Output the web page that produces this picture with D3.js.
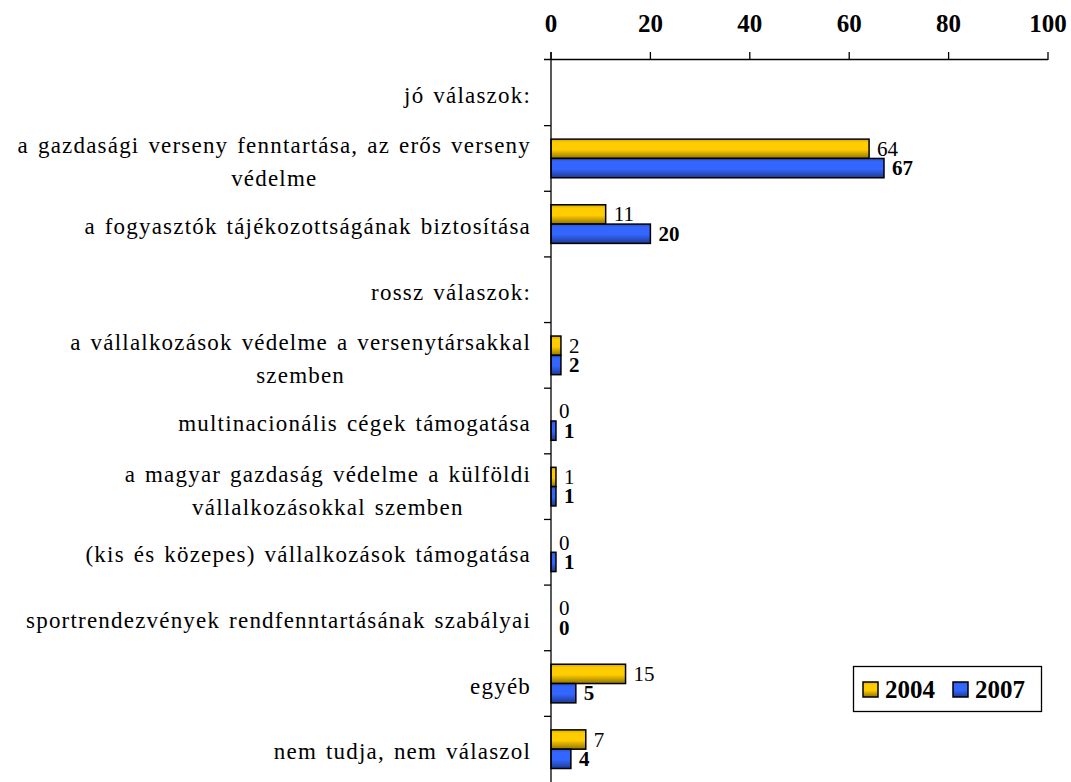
<!DOCTYPE html>
<html>
<head>
<meta charset="utf-8">
<script src="https://cdn.jsdelivr.net/npm/d3@7"></script>
<style>
  html, body { margin: 0; padding: 0; background: #fff; }
  svg { display: block; }
  svg text { font-family: "Liberation Serif", "Times New Roman", serif; }
</style>
</head>
<body>
<svg id="chart" width="1071" height="782"></svg>
<script>
// ---- data ----
const categories = [
  "jó válaszok:",
  "a gazdasági verseny fenntartása, az erős verseny\nvédelme",
  "a fogyasztók tájékozottságának biztosítása",
  "rossz válaszok:",
  "a vállalkozások védelme a versenytársakkal\nszemben",
  "multinacionális cégek támogatása",
  "a magyar gazdaság védelme a külföldi\nvállalkozásokkal szemben",
  "(kis és közepes) vállalkozások támogatása",
  "sportrendezvények rendfenntartásának szabályai",
  "egyéb",
  "nem tudja, nem válaszol"
];
const series = ["2004", "2007"];
const values2004 = [null, 64, 11, null, 2, 0, 1, 0, 0, 15, 7];
const values2007 = [null, 67, 20, null, 2, 1, 1, 1, 0, 5, 4];
const xTicks = [0, 20, 40, 60, 80, 100];

// ---- layout ----
const svg = d3.select("#chart");
const x0 = 551, x1 = 1048, yTop = 60, yBottom = 782;
const x = d3.scaleLinear().domain([0, 100]).range([x0, x1]);
const y = d3.scaleBand().domain(categories).range([yTop, yBottom]).paddingInner(0).paddingOuter(0);
const bw = y.bandwidth();
const ySub = d3.scaleBand().domain(series).range([13.5, bw - 13.5]);

const colors = { "2004": "#FFCC00", "2007": "#3366FF" };
const valueMap = { "2004": values2004, "2007": values2007 };
const serif = "'Liberation Serif', 'Times New Roman', serif";

// gradients
const defs = svg.append("defs");
series.forEach(s => {
  const c = d3.color(colors[s]);
  const g = defs.append("linearGradient").attr("id", "grad" + s)
    .attr("x1", 0).attr("y1", 0).attr("x2", 0).attr("y2", 1);
  g.append("stop").attr("offset", "0%").attr("stop-color", c.darker(0.5));
  g.append("stop").attr("offset", "18%").attr("stop-color", c);
  g.append("stop").attr("offset", "55%").attr("stop-color", c);
  g.append("stop").attr("offset", "100%").attr("stop-color", c.darker(1.6));
});

svg.append("rect").attr("width", 1071).attr("height", 782).attr("fill", "#fff");

// bars
const rows = [];
categories.forEach((cat, i) => {
  series.forEach(s => {
    const v = valueMap[s][i];
    if (v !== null) rows.push({ cat, s, v });
  });
});

svg.append("g").selectAll("rect")
  .data(rows.filter(d => d.v > 0))
  .join("rect")
  .attr("x", x(0))
  .attr("y", d => y(d.cat) + ySub(d.s))
  .attr("width", d => x(d.v) - x(0))
  .attr("height", ySub.bandwidth())
  .attr("fill", d => `url(#grad${d.s})`)
  .attr("stroke", "#000")
  .attr("stroke-width", 1.5);

// value labels
svg.append("g").selectAll("text")
  .data(rows)
  .join("text")
  .attr("x", d => x(d.v) + 8)
  .attr("y", d => y(d.cat) + ySub(d.s) + ySub.bandwidth() / 2 + 7)
  .style("font-family", serif)
  .attr("font-size", 21)
  .attr("font-weight", d => d.s === "2007" ? "bold" : "normal")
  .attr("fill", "#000")
  .text(d => d.v);

// top axis
const axisG = svg.append("g");
axisG.append("line")
  .attr("x1", x0 - 7).attr("x2", x1).attr("y1", yTop - 0.5).attr("y2", yTop - 0.5)
  .attr("stroke", "#000").attr("stroke-width", 1.3);
axisG.selectAll(".xtick").data(xTicks).join("line")
  .attr("x1", d => x(d)).attr("x2", d => x(d))
  .attr("y1", yTop - 8).attr("y2", yTop)
  .attr("stroke", "#000").attr("stroke-width", 1.3);
axisG.selectAll(".xlab").data(xTicks).join("text")
  .attr("x", d => x(d)).attr("y", 32)
  .attr("text-anchor", "middle")
  .style("font-family", serif)
  .attr("font-size", 25).attr("font-weight", "bold")
  .text(d => d);

// left axis
axisG.append("line")
  .attr("x1", x0).attr("x2", x0).attr("y1", yTop - 8).attr("y2", yBottom)
  .attr("stroke", "#000").attr("stroke-width", 1.3);
axisG.selectAll(".ytick").data(categories.slice(1)).join("line")
  .attr("x1", x0 - 7).attr("x2", x0)
  .attr("y1", d => y(d)).attr("y2", d => y(d))
  .attr("stroke", "#000").attr("stroke-width", 1.3);

// category labels
const labelRight = 531;
const labG = svg.append("g");
categories.forEach(cat => {
  const lines = cat.split("\n");
  const cy = y(cat) + bw / 2;
  const texts = lines.map((ln, j) => {
    const base = lines.length === 1 ? cy + 10 : cy - 5 + j * 33;
    return labG.append("text").attr("y", base).attr("text-anchor", "middle")
      .style("font-family", serif).style("font-size", "23px")
      .style("letter-spacing", "1.2px").style("word-spacing", "2px")
      .attr("fill", "#000").text(ln);
  });
  const maxW = d3.max(texts, t => t.node().getComputedTextLength());
  texts.forEach(t => t.attr("x", labelRight - maxW / 2));
});

// legend
const lg = svg.append("g");
lg.append("rect").attr("x", 853.5).attr("y", 666.5).attr("width", 188).attr("height", 45)
  .attr("fill", "#fff").attr("stroke", "#000").attr("stroke-width", 1.3);
const legX = d3.scalePoint().domain(series).range([863, 953]);
series.forEach(s => {
  lg.append("rect").attr("x", legX(s)).attr("y", 682).attr("width", 15).attr("height", 15)
    .attr("fill", `url(#grad${s})`).attr("stroke", "#000").attr("stroke-width", 1.5);
  lg.append("text").attr("x", legX(s) + 22).attr("y", 698)
    .style("font-family", serif)
    .attr("font-size", 25).attr("font-weight", "bold").text(s);
});
</script>
</body>
</html>
